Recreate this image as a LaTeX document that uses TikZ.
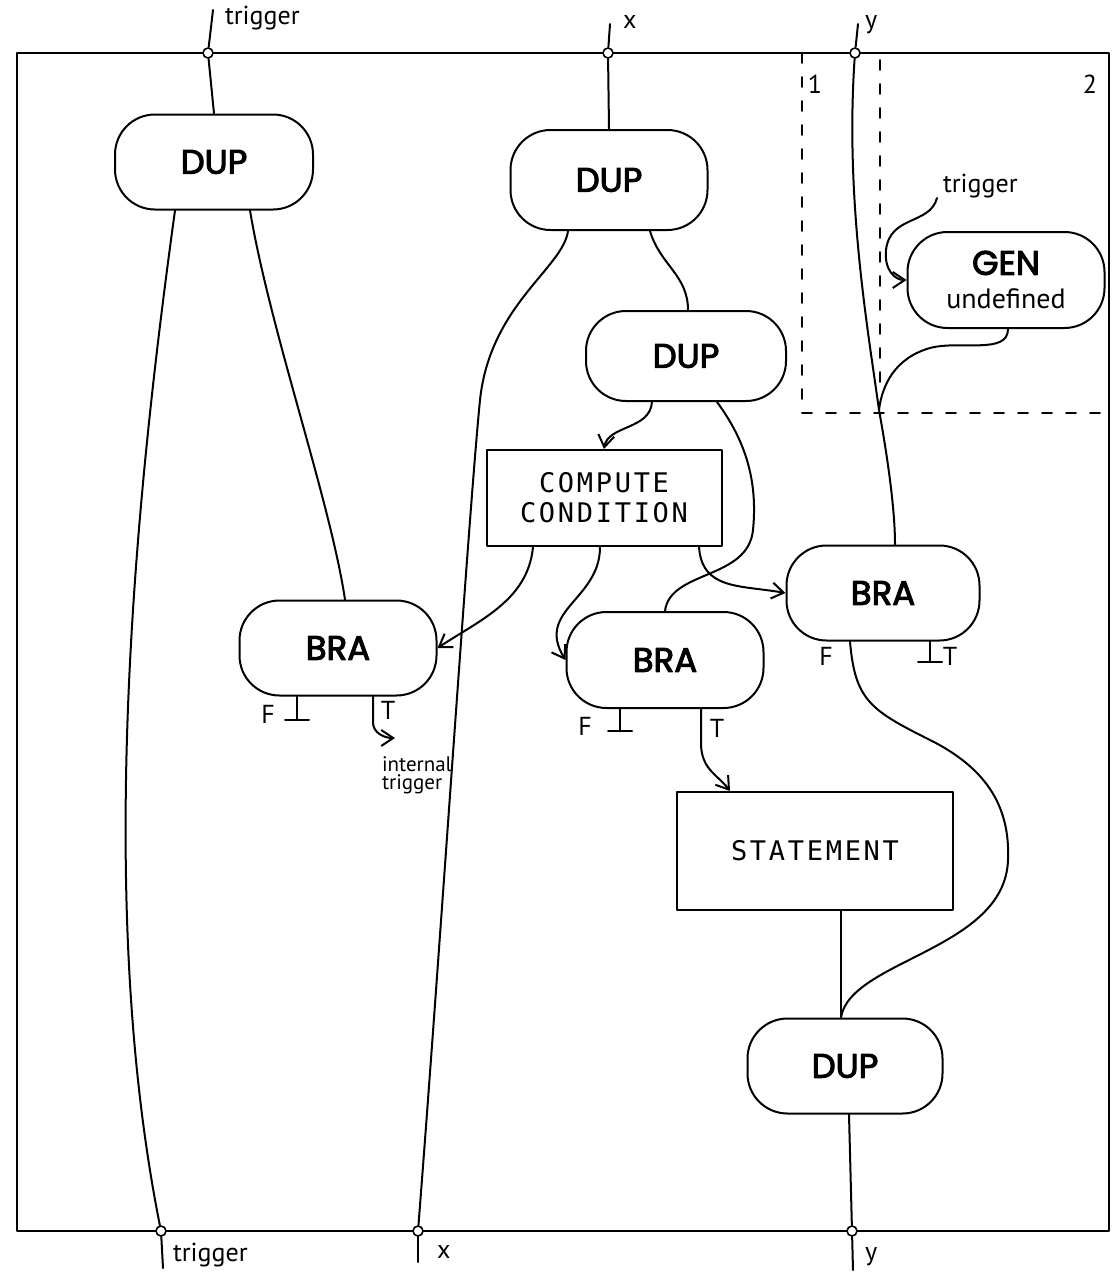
\documentclass[tikz,border=0pt]{standalone}
\usepackage{fontspec}
\setmainfont{PT Sans}
\newfontfamily\pillfont{Poppins}[FakeBold=3]
\newfontfamily\monofont{DejaVu Sans Mono}[LetterSpace=10]
\usetikzlibrary{arrows.meta,calc}

\begin{document}
\begin{tikzpicture}[x=0.5pt,y=-0.5pt,
  line width=1pt, line cap=round, line join=round,
  pill/.style={draw, rounded corners=20pt, inner sep=0pt, align=center,
    font=\pillfont\fontsize{17}{20}\selectfont},
  opbox/.style={draw, inner sep=0pt, align=center,
    font=\monofont\fontsize{13.5}{15}\selectfont},
  port/.style={circle, draw, fill=white, inner sep=0pt, minimum size=5pt, line width=0.8pt},
  lbl/.style={font=\fontsize{13}{15}\selectfont, inner sep=0pt},
  arr/.style={-{Straight Barb[length=6pt,width=8pt]}},
  region/.style={dash pattern=on 5pt off 7pt, line width=0.8pt}]

\useasboundingbox (0,0) rectangle (1114,1274);

% outer frame of the program graph
\draw (17,53) rectangle (1109,1231);

% dashed subregions 1 and 2
\draw[region] (802,53) -- (802,413) -- (1109,413);
\draw[region] (880,60) -- (880,395);
\node[lbl] (r1) at (815,84) {1};
\node[lbl] (r2) at (1090,84) {2};

% operator nodes
\node[pill, minimum width=99pt, minimum height=47.5pt] (dupA) at (214,162) {DUP};
\node[pill, minimum width=98.5pt, minimum height=50pt] (dupB) at (609,180) {DUP};
\node[pill, minimum width=100pt, minimum height=45pt] (dupC) at (686,356) {DUP};
\node[opbox, minimum width=117.5pt, minimum height=48pt] (cc) at (604,498) {COMPUTE\\CONDITION};
\node[pill, minimum width=98.5pt, minimum height=47.5pt] (braA) at (338,648) {BRA};
\node[pill, minimum width=98.5pt, minimum height=48pt] (braB) at (665,660) {BRA};
\node[pill, minimum width=96.5pt, minimum height=47.5pt] (braC) at (883,593) {BRA};
\node[pill, minimum width=98.5pt, minimum height=48pt] (gen) at (1006,280)
  {GEN\\[-3pt]{\normalfont\fontsize{14}{16}\selectfont undefined}};
\node[opbox, minimum width=138pt, minimum height=59pt] (stmt) at (815,851) {STATEMENT};
\node[pill, minimum width=97.5pt, minimum height=47.5pt] (dupD) at (845,1066) {DUP};

% input and output ports on the frame
\node[port] (tIn) at (208,53) {};
\node[port] (xIn) at (608,53) {};
\node[port] (yIn) at (855,53) {};
\node[port] (tOut) at (161,1231) {};
\node[port] (xOut) at (418,1231) {};
\node[port] (yOut) at (852,1231) {};

% external leads and their names
\coordinate (tInEnd) at (213,10);
\coordinate (xInEnd) at (610,24);
\coordinate (yInEnd) at (858,24);
\coordinate (tOutEnd) at (163,1268);
\coordinate (xOutEnd) at (418,1262);
\coordinate (yOutEnd) at (853,1270);
\draw (tIn) -- (tInEnd);
\draw (xIn) -- (xInEnd);
\draw (yIn) -- (yInEnd);
\draw (tOut) -- (tOutEnd);
\draw (xOut) -- (xOutEnd);
\draw (yOut) -- (yOutEnd);
\node[lbl, anchor=base west] (tInL) at (224,25) {trigger};
\node[lbl, anchor=base west] (xInL) at (622,28) {x};
\node[lbl, anchor=base west] (yInL) at (864,28) {y};
\node[lbl, anchor=base west] (tOutL) at (172,1261) {trigger};
\node[lbl, anchor=base west] (xOutL) at (436,1258) {x};
\node[lbl, anchor=base west] (yOutL) at (864,1260) {y};

% trigger path
\draw (tIn) -- (dupA.north);
\draw ([xshift=-19.5pt]dupA.south) .. controls (135,500) and (95,900) .. (tOut);
\draw ([xshift=18pt]dupA.south) .. controls (270,330) and (330,500) .. ([xshift=3.5pt]braA.north);

% x path
\draw (xIn) -- (dupB.north);
\draw ([xshift=-20.5pt]dupB.south) .. controls (563,268) and (490,305) .. (480,400)
  .. controls (469,510) and (440,950) .. (xOut);
\draw ([xshift=20.5pt]dupB.south) .. controls (660,265) and (688,275) .. ([xshift=1pt]dupC.north);
\draw[arr] ([xshift=-17pt]dupC.south) .. controls (650,430) and (608,425) .. (cc.north);
\draw ([xshift=15.5pt]dupC.south) .. controls (745,440) and (758,480) .. (753,530)
  .. controls (748,580) and (670,570) .. (braB.north);

% condition outputs
\draw[arr] ([xshift=-35.5pt]cc.south) .. controls (528,600) and (480,620) .. (braA.east);
\draw[arr] ([xshift=-2pt]cc.south) .. controls (600,600) and (535,610) .. (braB.west);
\draw[arr] ([xshift=47.5pt]cc.south) .. controls (702,590) and (740,585) .. (braC.west);

% y path, merged with the generated value
\coordinate (join) at (879,410);
\draw (yIn) .. controls (845,200) and (868,330) .. (join)
  .. controls (888,460) and (895,510) .. ([xshift=6pt]braC.north);
\draw ([xshift=1pt]gen.south) .. controls (1008,355) and (960,340) .. (930,348)
  .. controls (895,358) and (882,385) .. (join);
\coordinate (gTrig) at (937,198);
\node[lbl, anchor=base west] (gTrigL) at (942,192) {trigger};
\draw[arr] (gTrig) .. controls (930,225) and (890,215) .. (886,250)
  .. controls (884,270) and (895,280) .. (gen.west);

% branch outputs of the first BRA
\draw ([xshift=-20.5pt]braA.south) -- ++(0,-11.5pt) coordinate (fA);
\draw ([xshift=-6pt]fA) -- ([xshift=6pt]fA);
\node[lbl] (fAl) at (268,714) {F};
\coordinate (tIntA) at (395,738);
\draw[arr] ([xshift=17.5pt]braA.south) -- ++(0,-13pt) to[out=-90,in=180] (tIntA);
\node[lbl] (tAl) at (388,710) {T};
\node[lbl, anchor=north west, align=left, font=\fontsize{10.5}{9}\selectfont] (intl) at (381,756) {internal\\trigger};

% branch outputs of the second BRA
\draw ([xshift=-22.5pt]braB.south) -- ++(0,-11pt) coordinate (fB);
\draw ([xshift=-6pt]fB) -- ([xshift=6pt]fB);
\node[lbl] (fBl) at (585,726) {F};
\draw[arr] ([xshift=18pt]braB.south) -- (701,745) .. controls (702,770) and (718,775) .. ([xshift=-42.5pt]stmt.north);
\node[lbl] (tBl) at (717,728) {T};

% branch outputs of the third BRA
\draw ([xshift=-16.5pt]braC.south) .. controls (855,700) and (870,710) .. (930,740)
  .. controls (990,770) and (1010,810) .. (1008,860)
  .. controls (1005,950) and (850,960) .. ([xshift=-2pt]dupD.north);
\draw ([xshift=23.5pt]braC.south) -- ++(0,-10pt) coordinate (tC);
\draw ([xshift=-6pt]tC) -- ([xshift=6pt]tC);
\node[lbl] (fCl) at (826,656) {F};
\node[lbl] (tCl) at (950,656) {T};

% statement and final duplication
\draw ([xshift=13pt]stmt.south) -- ([xshift=-2pt]dupD.north);
\draw ([xshift=2pt]dupD.south) -- (yOut);

\end{tikzpicture}
\end{document}
